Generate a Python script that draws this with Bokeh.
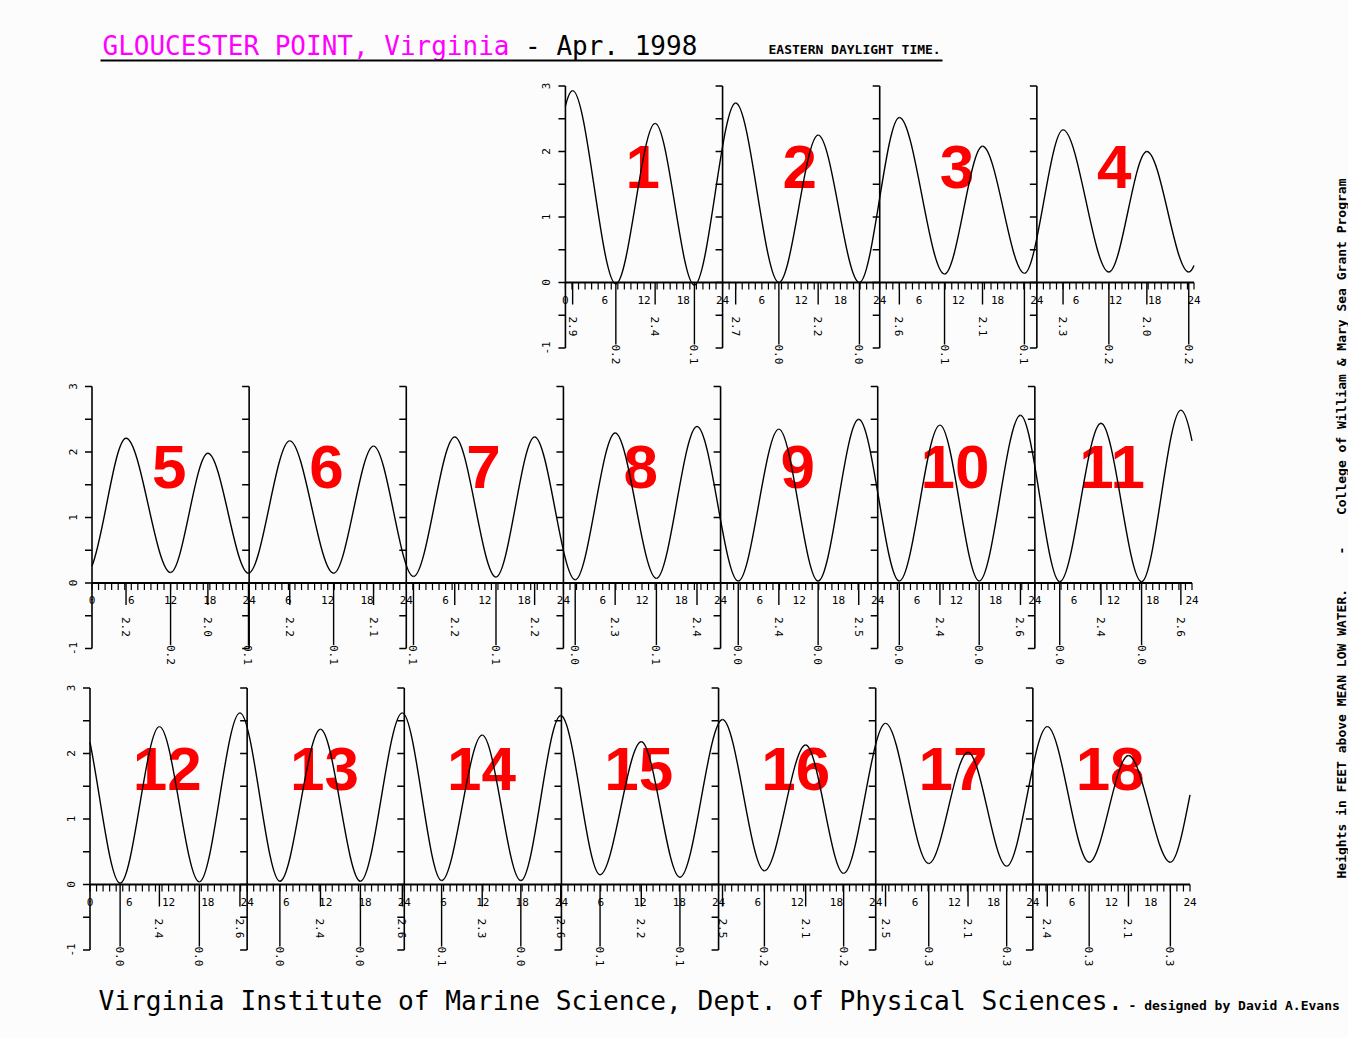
import math
from bokeh.plotting import figure
from bokeh.models import Range1d, ColumnDataSource
from bokeh.core.properties import value
from bokeh.embed import file_html
from bokeh.resources import INLINE

# ---------------------------------------------------------------- data
title_place = "GLOUCESTER POINT, Virginia"
title_date = "- Apr. 1998"
time_note = "EASTERN DAYLIGHT TIME."
footer_text = "Virginia Institute of Marine Science, Dept. of Physical Sciences."
credit_text = "- designed by David A.Evans"
side_text_a = "Heights in FEET above MEAN LOW WATER."
side_text_sep = "-"
side_text_b = "College of William & Mary Sea Grant Program"

days = list(range(1, 19))
first_weekday = 3  # 1 April 1998 was a Wednesday (Sunday = column 0)
week_rows = [[1, 2, 3, 4],
             [5, 6, 7, 8, 9, 10, 11],
             [12, 13, 14, 15, 16, 17, 18]]

hour_label_ticks = [0, 6, 12, 18]
hour_minor_ticks = list(range(0, 24))
height_label_ticks = [-1, 0, 1, 2, 3]
height_minor_ticks = [-1, -0.5, 0, 0.5, 1, 1.5, 2, 2.5, 3]

# high / low waters: day of month, hour (EDT), kind, height on curve (ft), printed value
ev_day = [1, 1, 1, 1, 2, 2, 2, 2, 3, 3, 3, 3, 4, 4, 4, 4,
          5, 5, 5, 5, 6, 6, 6, 7, 7, 7, 7, 8, 8, 8, 8,
          9, 9, 9, 9, 10, 10, 10, 10, 11, 11, 11, 11,
          12, 12, 12, 12, 13, 13, 13, 13, 14, 14, 14, 14,
          15, 15, 15, 16, 16, 16, 16, 17, 17, 17, 17, 18, 18, 18, 18]
ev_hour = [1.1, 7.7, 13.7, 19.7, 2.0, 8.6, 14.6, 20.9, 3.0, 9.9, 15.7, 22.1, 4.0, 11.0, 16.8, 23.2,
           5.2, 12.0, 17.7, 23.9, 6.2, 12.9, 19.0, 1.1, 7.4, 13.7, 19.6, 1.8, 7.9, 14.2, 20.4,
           2.7, 8.9, 14.9, 21.1, 3.3, 9.5, 15.5, 21.8, 3.8, 10.1, 16.3, 22.3,
           4.6, 10.6, 16.7, 22.9, 5.0, 11.2, 17.3, 23.7, 5.7, 11.9, 17.8, 23.9,
           5.9, 12.2, 18.1, 0.6, 7.0, 13.3, 19.1, 1.5, 8.1, 14.1, 20.0, 2.2, 8.6, 14.6, 21.0]
ev_kind = ["H", "L", "H", "L", "H", "L", "H", "L", "H", "L", "H", "L", "H", "L", "H", "L",
           "H", "L", "H", "L", "H", "L", "H", "L", "H", "L", "H", "L", "H", "L", "H",
           "L", "H", "L", "H", "L", "H", "L", "H", "L", "H", "L", "H",
           "L", "H", "L", "H", "L", "H", "L", "H", "L", "H", "L", "H",
           "L", "H", "L", "H", "L", "H", "L", "H", "L", "H", "L", "H", "L", "H", "L"]
ev_height = [2.93, -0.02, 2.43, -0.04, 2.74, 0.0, 2.25, 0.0, 2.52, 0.13, 2.08, 0.14, 2.33, 0.16, 2.0, 0.16,
             2.21, 0.16, 1.98, 0.15, 2.17, 0.15, 2.09, 0.10, 2.23, 0.09, 2.23, 0.05, 2.29, 0.07, 2.39,
             0.03, 2.35, 0.03, 2.50, 0.03, 2.41, 0.03, 2.56, 0.02, 2.44, 0.02, 2.64,
             0.02, 2.41, 0.04, 2.62, 0.05, 2.37, 0.05, 2.62, 0.06, 2.28, 0.06, 2.58,
             0.15, 2.18, 0.11, 2.52, 0.21, 2.13, 0.17, 2.46, 0.32, 2.02, 0.28, 2.41, 0.34, 1.97, 0.34]
ev_label = ["2.9", "0.2", "2.4", "0.1", "2.7", "0.0", "2.2", "0.0", "2.6", "0.1", "2.1", "0.1",
            "2.3", "0.2", "2.0", "0.2",
            "2.2", "0.2", "2.0", "0.1", "2.2", "0.1", "2.1", "0.1", "2.2", "0.1", "2.2",
            "0.0", "2.3", "0.1", "2.4",
            "0.0", "2.4", "0.0", "2.5", "0.0", "2.4", "0.0", "2.6", "0.0", "2.4", "0.0", "2.6",
            "0.0", "2.4", "0.0", "2.6", "0.0", "2.4", "0.0", "2.6", "0.1", "2.3", "0.0", "2.6",
            "0.1", "2.2", "0.1", "2.5", "0.2", "2.1", "0.2", "2.5", "0.3", "2.1", "0.3",
            "2.4", "0.3", "2.1", "0.3"]

# turning points just outside the days shown (only shape the curve ends)
lead_day, lead_hour, lead_height = 0, 18.8, 0.0
trail_day, trail_hour, trail_height = 19, 3.0, 2.4

# ---------------------------------------------------------------- layout
BG = "#fcfcfc"
PAGE_LEFT, PAGE_TOP = 0, 0
W, H = 1348, 1038
PX_PER_HOUR = 1100 / 168
PX_PER_FOOT = 65.5
ROW_WEEK0_PX = [93.5, 91.5, 89.5]     # page x of week-hour 0 for each row
ROW_ZERO_PX = [282.0, 582.5, 884.0]   # page y of the 0 ft line for each row
MONO = value("DejaVu Sans Mono")

p = figure(width=W, height=H, title=None,
           x_range=Range1d(PAGE_LEFT, PAGE_LEFT + W),
           y_range=Range1d(PAGE_TOP + H, PAGE_TOP),
           output_backend="svg", toolbar_location=None,
           x_axis_location=None, y_axis_location=None,
           min_border=0, outline_line_color=None,
           background_fill_color=BG, border_fill_color=BG)
p.xgrid.grid_line_color = None
p.ygrid.grid_line_color = None

xr, yr = {}, {}
for r in range(3):
    xs = -(ROW_WEEK0_PX[r] - PAGE_LEFT) / PX_PER_HOUR
    xr[f"row{r}"] = Range1d(xs, xs + W / PX_PER_HOUR)
    ye = (ROW_ZERO_PX[r] - PAGE_TOP) / PX_PER_FOOT
    yr[f"row{r}"] = Range1d(ye - H / PX_PER_FOOT, ye)
p.extra_x_ranges = xr
p.extra_y_ranges = yr

day_row, day_col = {}, {}
for r, row in enumerate(week_rows):
    for i, d in enumerate(row):
        day_row[d] = r
        day_col[d] = i + (first_weekday if r == 0 else 0)


def row_kw(r):
    return dict(x_range_name=f"row{r}", y_range_name=f"row{r}")


# ---------------------------------------------------------------- red day numbers
for r, row in enumerate(week_rows):
    src = ColumnDataSource(dict(x=[day_col[d] * 24 + 11.8 for d in row],
                                y=[1.77] * len(row), t=[str(d) for d in row]))
    p.text(x="x", y="y", text="t", source=src, text_color="#ff0000",
           text_font=value("Liberation Sans"), text_font_style="bold",
           text_font_size="62px", text_align="center", text_baseline="middle", **row_kw(r))

# ---------------------------------------------------------------- axes per day
for r, row in enumerate(week_rows):
    kw = row_kw(r)
    xs0 = [day_col[d] * 24 for d in row]
    # vertical height axis at the start of each day
    p.segment(x0=xs0, y0=[height_minor_ticks[0]] * len(xs0), x1=xs0,
              y1=[height_minor_ticks[-1]] * len(xs0), line_color="black", line_width=1.6, **kw)
    tx = [x for x in xs0 for _ in height_minor_ticks]
    ty = [v for _ in xs0 for v in height_minor_ticks]
    p.ray(x=tx, y=ty, length=7, length_units="screen", angle=math.pi,
          line_color="black", line_width=1.5, **kw)
    # height labels only on the first day of the row
    p.text(x=[xs0[0]] * len(height_label_ticks), y=height_label_ticks,
           text=[str(v) for v in height_label_ticks], angle=math.pi / 2,
           x_offset=-19, text_font=MONO, text_font_size="11px",
           text_align="center", text_baseline="middle", **kw)
    # hour axis along 0 ft
    row_start = xs0[0]
    row_end = xs0[-1] + 24
    p.segment(x0=[row_start], y0=[0], x1=[row_end], y1=[0],
              line_color="black", line_width=2, **kw)
    hx = [x + h for x in xs0 for h in hour_minor_ticks] + [row_end]
    p.ray(x=hx, y=[0] * len(hx), length=7, length_units="screen", angle=-math.pi / 2,
          line_color="black", line_width=1.2, **kw)
    lx, lt = [], []
    for i, x in enumerate(xs0):
        for h in hour_label_ticks:
            lx.append(x + h)
            if h == 0:
                lt.append("0" if i == 0 else "24")
            else:
                lt.append(str(h))
    lx.append(row_end)
    lt.append("24")
    p.text(x=lx, y=[0] * len(lx), text=lt, y_offset=17, text_font=MONO,
           text_font_size="11px", text_align="center", text_baseline="middle", **kw)

# ---------------------------------------------------------------- tide curve (Bezier between turning points)
turns = [((lead_day - 1) * 24 + lead_hour, lead_height)]
turns += [((d - 1) * 24 + h, v) for d, h, v in zip(ev_day, ev_hour, ev_height)]
turns += [((trail_day - 1) * 24 + trail_hour, trail_height)]


def lerp(a, b, u):
    return (a[0] + (b[0] - a[0]) * u, a[1] + (b[1] - a[1]) * u)


def split(P, u):
    p0, p1, p2, p3 = P
    a, b, c = lerp(p0, p1, u), lerp(p1, p2, u), lerp(p2, p3, u)
    d_, e = lerp(a, b, u), lerp(b, c, u)
    f = lerp(d_, e, u)
    return (p0, a, d_, f), (f, e, c, p3)


def sub_curve(P, u0, u1):
    left, _ = split(P, u1)
    if u0 <= 0:
        return left
    _, right = split(left, u0 / u1)
    return right


for r, row in enumerate(week_rows):
    a_abs = (row[0] - 1) * 24
    b_abs = row[-1] * 24
    shift = day_col[row[0]] * 24 - a_abs
    cols = {k: [] for k in ("x0", "y0", "x1", "y1", "cx0", "cy0", "cx1", "cy1")}
    for (t0, h0), (t1, h1) in zip(turns[:-1], turns[1:]):
        dt = t1 - t0
        u0 = max(0.0, (a_abs - t0) / dt)
        u1 = min(1.0, (b_abs - t0) / dt)
        if u0 >= u1:
            continue
        P = ((t0, h0), (t0 + dt / 3, h0), (t1 - dt / 3, h1), (t1, h1))
        q0, q1, q2, q3 = sub_curve(P, u0, u1)
        cols["x0"].append(q0[0] + shift); cols["y0"].append(q0[1])
        cols["cx0"].append(q1[0] + shift); cols["cy0"].append(q1[1])
        cols["cx1"].append(q2[0] + shift); cols["cy1"].append(q2[1])
        cols["x1"].append(q3[0] + shift); cols["y1"].append(q3[1])
    p.bezier(x0="x0", y0="y0", x1="x1", y1="y1", cx0="cx0", cy0="cy0", cx1="cx1", cy1="cy1",
             source=ColumnDataSource(cols), line_color="black", line_width=1.4, **row_kw(r))

# ---------------------------------------------------------------- high / low markers and values
for r, row in enumerate(week_rows):
    kw = row_kw(r)
    for kind, drop, off in (("H", 22, 34), ("L", 62, 62)):
        sel = [i for i in range(len(ev_day)) if ev_day[i] in row and ev_kind[i] == kind]
        xs = [day_col[ev_day[i]] * 24 + ev_hour[i] for i in sel]
        p.ray(x=xs, y=[0] * len(xs), length=drop, length_units="screen", angle=-math.pi / 2,
              line_color="black", line_width=1.4, **kw)
        p.text(x=xs, y=[0] * len(xs), text=[ev_label[i] for i in sel], y_offset=off,
               angle=-math.pi / 2, text_font=MONO, text_font_size="11px",
               text_align="left", text_baseline="middle", **kw)

# ---------------------------------------------------------------- page texts
CH = 0.602  # DejaVu Sans Mono advance / em
TS = 26
p.text(x=[102], y=[45], text=[title_place], text_color="#ff00ff", text_font=MONO,
       text_font_size=f"{TS}px", text_align="left", text_baseline="middle")
p.text(x=[102 + (len(title_place) + 1) * CH * TS], y=[45], text=[title_date], text_color="black",
       text_font=MONO, text_font_size=f"{TS}px", text_align="left", text_baseline="middle")
p.text(x=[768], y=[49], text=[time_note], text_font=MONO, text_font_style="bold",
       text_font_size="13px", text_align="left", text_baseline="middle")
p.segment(x0=[100], y0=[60], x1=[942], y1=[60], line_color="black", line_width=2)
p.text(x=[98], y=[1000], text=[footer_text], text_font=MONO, text_font_size="26.2px",
       text_align="left", text_baseline="middle")
p.text(x=[1128], y=[1005], text=[credit_text], text_font=MONO, text_font_style="bold",
       text_font_size="13px", text_align="left", text_baseline="middle")
p.text(x=[1341], y=[878], text=[side_text_a], angle=math.pi / 2, text_font=MONO,
       text_font_style="bold", text_font_size="13px", text_align="left", text_baseline="middle")
p.text(x=[1341], y=[550], text=[side_text_sep], angle=math.pi / 2, text_font=MONO,
       text_font_style="bold", text_font_size="13px", text_align="center", text_baseline="middle")
p.text(x=[1341], y=[178], text=[side_text_b], angle=math.pi / 2, text_font=MONO,
       text_font_style="bold", text_font_size="13px", text_align="right", text_baseline="middle")

open("out.html", "w").write(file_html(p, INLINE))
